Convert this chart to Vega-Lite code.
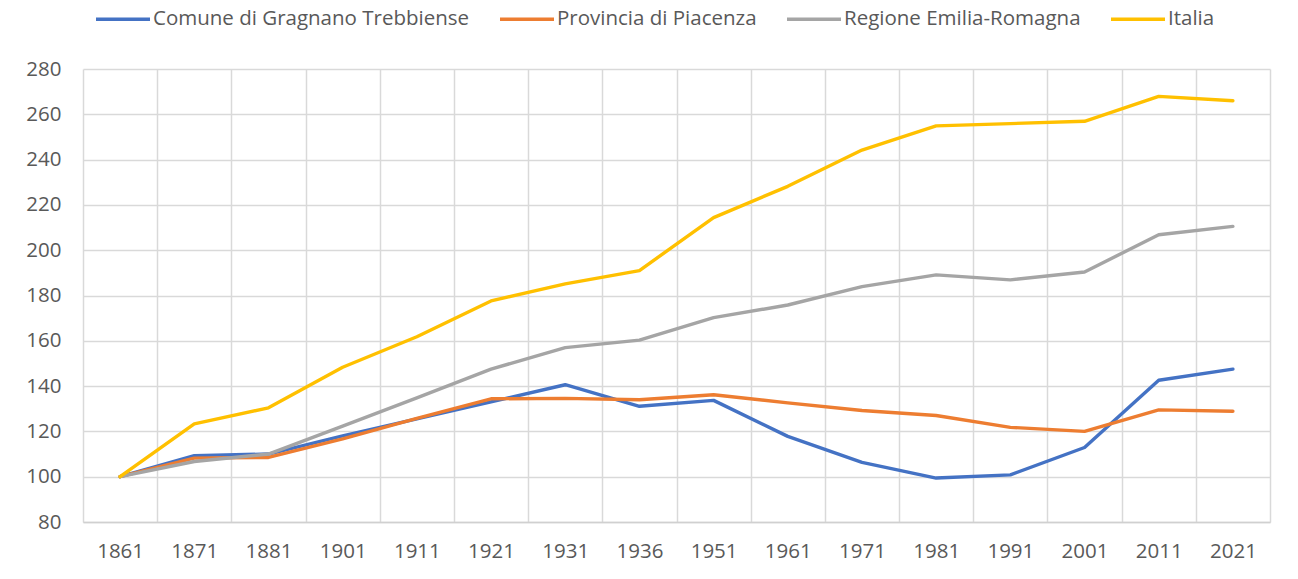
{
  "$schema": "https://vega.github.io/schema/vega-lite/v6.json",
  "width": 1298,
  "height": 579,
  "autosize": {"type": "fit", "contains": "padding"},
  "padding": {"left": 25, "right": 28, "top": 59, "bottom": 17},
  "background": "white",
  "config": {
    "font": "Open Sans",
    "view": {"stroke": null},
    "axis": {"labelFont": "Open Sans", "labelColor": "#595959", "labelFontSize": 20.5}
  },
  "data": {
    "values": [
      {"anno": "1861", "serie": "Comune di Gragnano Trebbiense", "valore": 100},
      {"anno": "1871", "serie": "Comune di Gragnano Trebbiense", "valore": 109.3},
      {"anno": "1881", "serie": "Comune di Gragnano Trebbiense", "valore": 110},
      {"anno": "1901", "serie": "Comune di Gragnano Trebbiense", "valore": 118},
      {"anno": "1911", "serie": "Comune di Gragnano Trebbiense", "valore": 125.5},
      {"anno": "1921", "serie": "Comune di Gragnano Trebbiense", "valore": 133},
      {"anno": "1931", "serie": "Comune di Gragnano Trebbiense", "valore": 140.6},
      {"anno": "1936", "serie": "Comune di Gragnano Trebbiense", "valore": 131.1},
      {"anno": "1951", "serie": "Comune di Gragnano Trebbiense", "valore": 133.7},
      {"anno": "1961", "serie": "Comune di Gragnano Trebbiense", "valore": 117.8},
      {"anno": "1971", "serie": "Comune di Gragnano Trebbiense", "valore": 106.3},
      {"anno": "1981", "serie": "Comune di Gragnano Trebbiense", "valore": 99.4},
      {"anno": "1991", "serie": "Comune di Gragnano Trebbiense", "valore": 100.8},
      {"anno": "2001", "serie": "Comune di Gragnano Trebbiense", "valore": 112.9},
      {"anno": "2011", "serie": "Comune di Gragnano Trebbiense", "valore": 142.6},
      {"anno": "2021", "serie": "Comune di Gragnano Trebbiense", "valore": 147.5},
      {"anno": "1861", "serie": "Provincia di Piacenza", "valore": 100},
      {"anno": "1871", "serie": "Provincia di Piacenza", "valore": 108.2},
      {"anno": "1881", "serie": "Provincia di Piacenza", "valore": 108.5},
      {"anno": "1901", "serie": "Provincia di Piacenza", "valore": 116.7},
      {"anno": "1911", "serie": "Provincia di Piacenza", "valore": 125.8},
      {"anno": "1921", "serie": "Provincia di Piacenza", "valore": 134.4},
      {"anno": "1931", "serie": "Provincia di Piacenza", "valore": 134.6},
      {"anno": "1936", "serie": "Provincia di Piacenza", "valore": 134},
      {"anno": "1951", "serie": "Provincia di Piacenza", "valore": 136.2},
      {"anno": "1961", "serie": "Provincia di Piacenza", "valore": 132.6},
      {"anno": "1971", "serie": "Provincia di Piacenza", "valore": 129.2},
      {"anno": "1981", "serie": "Provincia di Piacenza", "valore": 127},
      {"anno": "1991", "serie": "Provincia di Piacenza", "valore": 121.8},
      {"anno": "2001", "serie": "Provincia di Piacenza", "valore": 120},
      {"anno": "2011", "serie": "Provincia di Piacenza", "valore": 129.5},
      {"anno": "2021", "serie": "Provincia di Piacenza", "valore": 128.9},
      {"anno": "1861", "serie": "Regione Emilia-Romagna", "valore": 100},
      {"anno": "1871", "serie": "Regione Emilia-Romagna", "valore": 106.7},
      {"anno": "1881", "serie": "Regione Emilia-Romagna", "valore": 110},
      {"anno": "1901", "serie": "Regione Emilia-Romagna", "valore": 122.3},
      {"anno": "1911", "serie": "Regione Emilia-Romagna", "valore": 134.8},
      {"anno": "1921", "serie": "Regione Emilia-Romagna", "valore": 147.5},
      {"anno": "1931", "serie": "Regione Emilia-Romagna", "valore": 157},
      {"anno": "1936", "serie": "Regione Emilia-Romagna", "valore": 160.3},
      {"anno": "1951", "serie": "Regione Emilia-Romagna", "valore": 170.2},
      {"anno": "1961", "serie": "Regione Emilia-Romagna", "valore": 175.8},
      {"anno": "1971", "serie": "Regione Emilia-Romagna", "valore": 183.9},
      {"anno": "1981", "serie": "Regione Emilia-Romagna", "valore": 189.1},
      {"anno": "1991", "serie": "Regione Emilia-Romagna", "valore": 186.9},
      {"anno": "2001", "serie": "Regione Emilia-Romagna", "valore": 190.4},
      {"anno": "2011", "serie": "Regione Emilia-Romagna", "valore": 206.8},
      {"anno": "2021", "serie": "Regione Emilia-Romagna", "valore": 210.5},
      {"anno": "1861", "serie": "Italia", "valore": 100},
      {"anno": "1871", "serie": "Italia", "valore": 123.3},
      {"anno": "1881", "serie": "Italia", "valore": 130.4},
      {"anno": "1901", "serie": "Italia", "valore": 148.3},
      {"anno": "1911", "serie": "Italia", "valore": 161.8},
      {"anno": "1921", "serie": "Italia", "valore": 177.6},
      {"anno": "1931", "serie": "Italia", "valore": 185.1},
      {"anno": "1936", "serie": "Italia", "valore": 191},
      {"anno": "1951", "serie": "Italia", "valore": 214.4},
      {"anno": "1961", "serie": "Italia", "valore": 228.2},
      {"anno": "1971", "serie": "Italia", "valore": 244.2},
      {"anno": "1981", "serie": "Italia", "valore": 254.9},
      {"anno": "1991", "serie": "Italia", "valore": 255.9},
      {"anno": "2001", "serie": "Italia", "valore": 256.9},
      {"anno": "2011", "serie": "Italia", "valore": 267.9},
      {"anno": "2021", "serie": "Italia", "valore": 266}
    ]
  },
  "mark": {"type": "line", "strokeWidth": 3.4, "strokeCap": "round", "strokeJoin": "round"},
  "encoding": {
    "x": {
      "field": "anno",
      "type": "ordinal",
      "bandPosition": 0.5,
      "sort": null,
      "scale": {"type": "band", "paddingInner": 0, "paddingOuter": 0},
      "axis": {
        "title": null,
        "labelAngle": 0,
        "tickBand": "extent",
        "ticks": false,
        "grid": true,
        "gridColor": "#d9d9d9",
        "gridWidth": 1.5,
        "domainColor": "#d0d0d0",
        "domainWidth": 1.5,
        "labelPadding": 19
      }
    },
    "y": {
      "field": "valore",
      "type": "quantitative",
      "scale": {"domain": [80, 280], "nice": false, "zero": false},
      "axis": {
        "title": null,
        "values": [80, 100, 120, 140, 160, 180, 200, 220, 240, 260, 280],
        "ticks": false,
        "domain": false,
        "grid": true,
        "gridColor": "#d9d9d9",
        "gridWidth": 1.5,
        "labelPadding": 22
      }
    },
    "color": {
      "field": "serie",
      "type": "nominal",
      "sort": ["Comune di Gragnano Trebbiense", "Provincia di Piacenza", "Regione Emilia-Romagna", "Italia"],
      "scale": {
        "domain": ["Comune di Gragnano Trebbiense", "Provincia di Piacenza", "Regione Emilia-Romagna", "Italia"],
        "range": ["#4472C4", "#ED7D31", "#A5A5A5", "#FFC000"]
      },
      "legend": {
        "title": null,
        "orient": "none",
        "legendX": 11,
        "legendY": -79,
        "direction": "horizontal",
        "symbolType": "stroke",
        "symbolSize": 2916,
        "symbolStrokeWidth": 3.5,
        "labelFont": "Open Sans",
        "labelFontSize": 20.5,
        "labelColor": "#595959",
        "labelOffset": 1,
        "columnPadding": 23,
        "labelLimit": 500
      }
    }
  }
}
